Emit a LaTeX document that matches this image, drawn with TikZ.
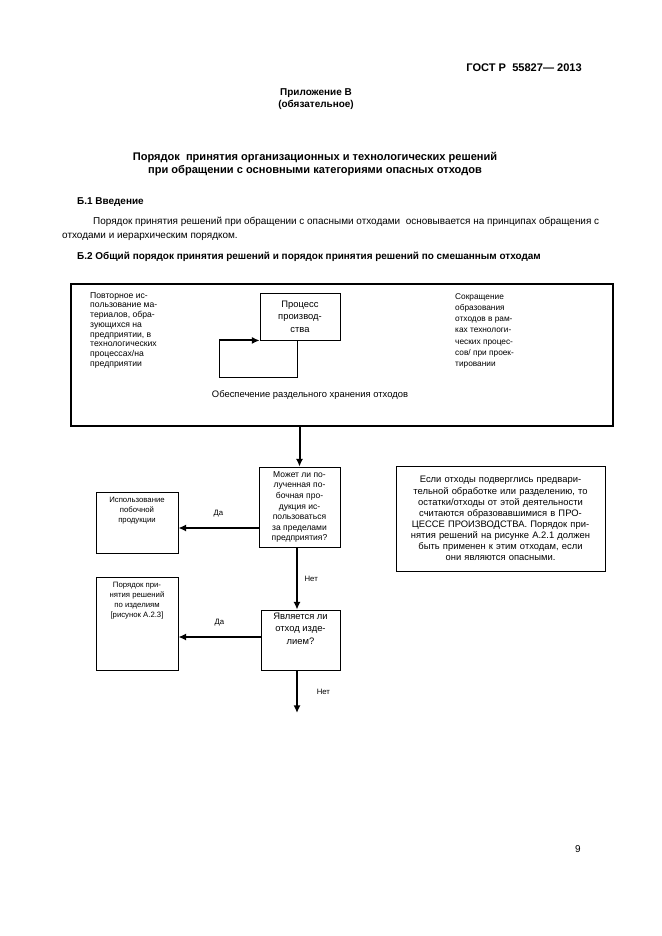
\documentclass[tikz,border=0pt]{standalone}
\usepackage{fontspec}
\setmainfont{Liberation Sans}
\usepackage{tikz}
\usetikzlibrary{arrows.meta}
\def\pxu{0.3177mm}
\tikzset{every node/.style={inner sep=0pt,align=center}}
\tikzset{box/.style={draw,line width=0.8pt}}
\tikzset{frame/.style={draw,line width=1.8pt}}
\tikzset{arr/.style={->,>={Latex[length=7pt,width=6.5pt]},line width=1.8pt}}
\tikzset{tiny/.style={font=\fontsize{7}{9}\selectfont}}
\tikzset{small/.style={font=\fontsize{8.5}{10}\selectfont}}
\tikzset{body/.style={font=\fontsize{9}{11}\selectfont}}
\tikzset{head/.style={font=\bfseries\fontsize{9}{10.5}\selectfont}}
\begin{document}
\begin{tikzpicture}[x=\pxu,y=-\pxu]
\useasboundingbox (0,0) rectangle (661,936);
% page text
\node[font=\bfseries\fontsize{10}{12}\selectfont,anchor=east] (gost) at (582,68) {ГОСТ Р\ \ 55827— 2013};
\node[head] (annex) at (316,99) {Приложение В\\(обязательное)};
\node[font=\bfseries\fontsize{10}{12}\selectfont] (title) at (315,164) {Порядок\ \ принятия организационных и технологических решений\\при обращении с основными категориями опасных отходов};
\node[head,anchor=west] (b1) at (77,202) {Б.1 Введение};
\node[body,anchor=west] (par1) at (93,222) {Порядок принятия решений при обращении с опасными отходами\ \ основывается на принципах обращения с};
\node[body,anchor=west] (par2) at (62,237) {отходами и иерархическим порядком.};
\node[head,anchor=west] (b2) at (77,257) {Б.2 Общий порядок принятия решений и порядок принятия решений по смешанным отходам};
% upper frame
\node[frame,minimum width=542*\pxu,minimum height=142*\pxu] (big) at (342,355) {};
\node[font=\fontsize{7.8}{8.8}\selectfont,align=left,anchor=north west] (reuse) at (90,292) {Повторное ис-\\пользование ма-\\териалов, обра-\\зующихся на\\предприятии, в\\технологических\\процессах/на\\предприятии};
\node[font=\fontsize{7.5}{10.2}\selectfont,align=left,anchor=north west] (cut) at (455,293) {Сокращение\\образования\\отходов в рам-\\ках технологи-\\ческих процес-\\сов/ при проек-\\тировании};
\node[box,font=\fontsize{8.5}{11.2}\selectfont,minimum width=80*\pxu,minimum height=47*\pxu] (proc) at (300,316.5) {Процесс\\производ-\\ства};
\coordinate (lp) at (219,377);
\draw[line width=0.8pt] (proc.south -| 297,0) |- (lp) -- (lp |- proc.south);
\draw[arr] (lp |- proc.south) -- (proc.south west);
\node[small] (sep) at (310,395) {Обеспечение раздельного хранения отходов};
% decisions
\node[box,font=\fontsize{7.7}{9.6}\selectfont,minimum width=81*\pxu,minimum height=80*\pxu] (q1) at (299.5,507) {Может ли по-\\лученная по-\\бочная про-\\дукция ис-\\пользоваться\\за пределами\\предприятия?};
\node[box,minimum width=82*\pxu,minimum height=61*\pxu] (use) at (137,522.5) {};
\node[tiny,anchor=north] (usetxt) at ([yshift=-5pt]use.north) {Использование\\побочной\\продукции};
\node[box,small,text width=190*\pxu,minimum width=209*\pxu,minimum height=105*\pxu] (note) at (500.5,518.5) {Если отходы подверглись предвари-\\тельной обработке или разделению, то\\остатки/отходы от этой деятельности\\считаются образовавшимися в ПРО-\\ЦЕССЕ ПРОИЗВОДСТВА. Порядок при-\\нятия решений на рисунке А.2.1 должен\\быть применен к этим отходам, если\\они являются опасными.};
\node[box,minimum width=79*\pxu,minimum height=60*\pxu] (q2) at (300.5,640) {};
\node[font=\fontsize{8.5}{11.3}\selectfont,anchor=north] (q2txt) at ([yshift=-2.5pt]q2.north) {Является ли\\отход изде-\\лием?};
\node[box,minimum width=82*\pxu,minimum height=93*\pxu] (prod) at (137,623.5) {};
\node[tiny,anchor=north] (prodtxt) at ([yshift=-5pt]prod.north) {Порядок при-\\нятия решений\\по изделиям\\{[рисунок А.2.3]}};
\coordinate (down) at (297,713);
% connectors
\draw[arr] (big.south -| q1.north) -- (q1.north);
\draw[arr] (q1.west |- 0,528) -- node[tiny,midway,above=9pt] {Да} (use.east |- 0,528);
\draw[arr] (q1.south -| 297,0) -- node[tiny,midway,right=6pt] {Нет} (q2.north -| 297,0);
\draw[arr] (q2.west |- 0,637) -- node[tiny,midway,above=9pt] {Да} (prod.east |- 0,637);
\draw[arr] (q2.south -| down) -- node[tiny,midway,right=17pt] {Нет} (down);
\node[body] (page) at (578,849) {9};
\end{tikzpicture}
\end{document}
